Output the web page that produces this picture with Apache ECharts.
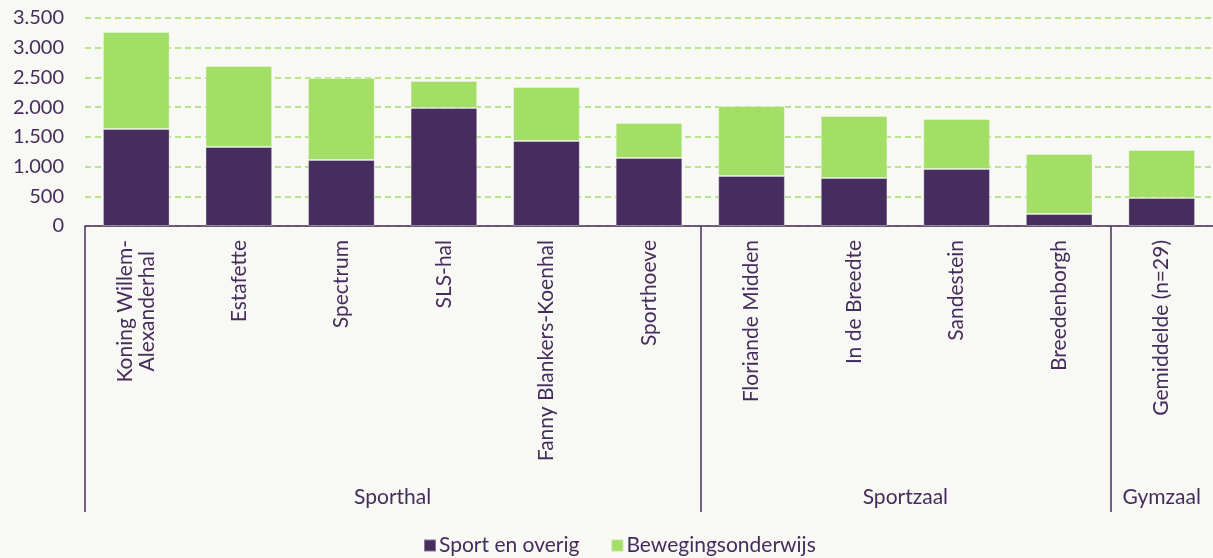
<!DOCTYPE html>
<html>
<head>
    <meta charset="utf-8" />
    <script src="https://cdn.jsdelivr.net/npm/echarts@6/dist/echarts.min.js"></script>
</head>
<body style="margin:0;background:#f8f8f4">
    <style>
        html, body { height: 100%; }
        #main { width: 1213px; height: 558px; }
    </style>
    <div id="main"></div>

    <script type="text/javascript">
        var categories = ['Koning Willem-\nAlexanderhal', 'Estafette', 'Spectrum', 'SLS-hal', 'Fanny Blankers-Koenhal',
            'Sporthoeve', 'Floriande Midden', 'In de Breedte', 'Sandestein', 'Breedenborgh', 'Gemiddelde (n=29)'];
        var sportEnOverig = [1632, 1329, 1111, 1986, 1430, 1144, 841, 808, 959, 202, 471];
        var bewegingsonderwijs = [1632, 1363, 1379, 454, 909, 589, 1178, 1043, 841, 1010, 808];
        // groups along the x axis: name + number of categories
        var groupNames = ['Sporthal', 'Sportzaal', 'Gymzaal'];
        var groupSizes = [6, 4, 1];

        var PURPLE = '#462d5e';
        var GREEN = '#a3de67';
        var TEXT = '#452c5c';

        // boundaries and centres of the groups, in category units
        var groupEdges = [0];
        var groupCenters = [];
        groupSizes.forEach(function (n, i) {
            groupCenters.push(groupEdges[i] + n / 2);
            groupEdges.push(groupEdges[i] + n);
        });

        var chart = echarts.init(document.getElementById('main'));
        chart.setOption({
            backgroundColor: '#f8f8f4',
            animation: false,
            textStyle: { fontFamily: 'Lato', color: TEXT },
            grid: { left: 85, right: 0, top: 18, bottom: 332 },
            legend: {
                left: 418,
                top: 530,
                itemWidth: 12,
                itemHeight: 12,
                itemGap: 31,
                icon: 'rect',
                textStyle: { fontFamily: 'Lato', fontSize: 21, color: TEXT, padding: [0, 0, 0, -2] },
                data: ['Sport en overig', 'Bewegingsonderwijs']
            },
            xAxis: [
                {
                    type: 'category',
                    data: categories,
                    axisLine: { lineStyle: { color: PURPLE, width: 1.5 } },
                    axisTick: { show: false },
                    axisLabel: {
                        rotate: 90,
                        margin: 14,
                        interval: 0,
                        // centre multi-line labels against each other
                        formatter: function (v) {
                            return v.split('\n').map(function (s) { return '{c|' + s + '}'; }).join('\n');
                        },
                        rich: {
                            c: { align: 'center', fontSize: 21, lineHeight: 22, color: TEXT, fontFamily: 'Lato' }
                        }
                    }
                },
                {
                    type: 'value',
                    min: 0,
                    max: categories.length,
                    position: 'bottom',
                    axisLine: { show: false },
                    splitLine: { show: false },
                    axisTick: {
                        customValues: groupEdges.slice(0, groupEdges.length - 1),
                        length: 286,
                        lineStyle: { color: PURPLE, width: 1.5 }
                    },
                    axisLabel: {
                        customValues: groupCenters,
                        margin: 261,
                        fontSize: 21,
                        color: TEXT,
                        fontFamily: 'Lato',
                        formatter: function (v) {
                            var i = groupCenters.indexOf(v);
                            return i >= 0 ? groupNames[i] : '';
                        }
                    }
                }
            ],
            yAxis: {
                type: 'value',
                min: 0,
                max: 3500,
                interval: 500,
                axisLine: { show: false },
                axisTick: { show: false },
                axisLabel: {
                    margin: 21,
                    fontSize: 20,
                    color: TEXT,
                    fontFamily: 'Lato',
                    formatter: function (v) { return v.toLocaleString('nl-NL'); }
                },
                splitLine: { lineStyle: { color: GREEN, type: [6, 4], width: 1.5 } }
            },
            series: [
                {
                    type: 'bar',
                    name: 'Sport en overig',
                    stack: 'total',
                    barWidth: '65%',
                    data: sportEnOverig,
                    itemStyle: { color: PURPLE, borderColor: 'rgba(255,255,255,0.35)', borderWidth: 1 }
                },
                {
                    type: 'bar',
                    name: 'Bewegingsonderwijs',
                    stack: 'total',
                    data: bewegingsonderwijs,
                    itemStyle: { color: GREEN, borderColor: 'rgba(255,255,255,0.35)', borderWidth: 1 }
                }
            ]
        });
    </script>
</body>
</html>
